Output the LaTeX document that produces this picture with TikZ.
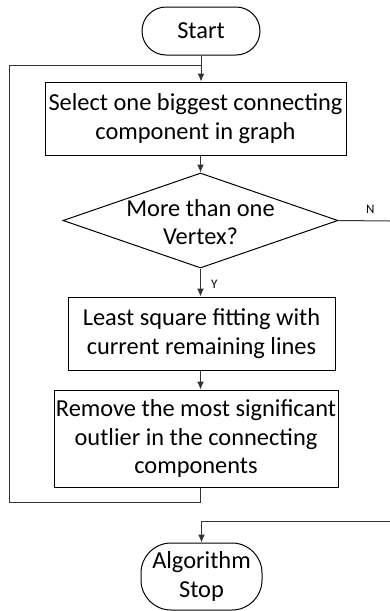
\documentclass[tikz,border=0pt]{standalone}
\usepackage{fontspec}
\setmainfont{Carlito}
\usetikzlibrary{arrows.meta,shapes.geometric}
\begin{document}
\begin{tikzpicture}[x=1pt,y=-1pt,
  every node/.style={font=\fontsize{24.4}{28.5}\selectfont, align=center, inner sep=0pt},
  procbox/.style={draw, line width=1pt, minimum width=#1},
  terminal/.style={draw, line width=1pt, rounded corners=24pt},
  decision/.style={draw, line width=1pt, diamond, minimum width=275pt, minimum height=95pt},
  flow/.style={line width=1pt, draw=black!80, -{Latex[length=8pt,width=7pt]}},
  link/.style={line width=1pt, draw=black!80},
  small/.style={font=\fontsize{13}{15}\selectfont}]
\useasboundingbox (0,0) rectangle (390,611);
% terminals
\node[terminal, minimum width=118pt, minimum height=48pt] (start) at (201,31) {Start};
\node[terminal, rounded corners=30pt, minimum width=121pt, minimum height=67pt] (stop) at (201.5,576.5) {Algorithm\\Stop};
% process boxes
\node[procbox=301pt, minimum height=73pt] (select) at (195.5,118.5) {Select one biggest connecting\\component in graph};
\node[decision] (check) at (200.5,220.5) {};
\node (checktext) at (200.5,222) {More than one\\Vertex?};
\node[procbox=267pt, minimum height=73pt] (fit) at (201.5,333.5) {Least square fitting with\\current remaining lines};
\node[procbox=284pt, minimum height=97pt] (remove) at (196,438.5) {Remove the most significant\\outlier in the connecting\\components};
% loop corners and exits
\coordinate (loopin) at (201,65);
\coordinate (loopbl) at (9,502);
\coordinate (noexit) at (390,221);
\coordinate (noback) at (390,521);
% connectors
\draw[flow] (start.south) -- (select.north -| start.south);
\draw[flow] (select.south -| check.north) -- (check.north);
\draw[flow] (check.south) -- (fit.north -| check.south) node[small, pos=0.55, right=10pt] {Y};
\draw[flow] (fit.south -| check.south) -- (remove.north -| check.south);
\draw[link] (remove.south -| check.south) |- (loopbl) |- (loopin);
\draw[link] (check.east) -- (noexit) node[small, pos=0.62, above=7pt] {N};
\draw[flow] (noback) -| (stop.north);
\end{tikzpicture}
\end{document}
